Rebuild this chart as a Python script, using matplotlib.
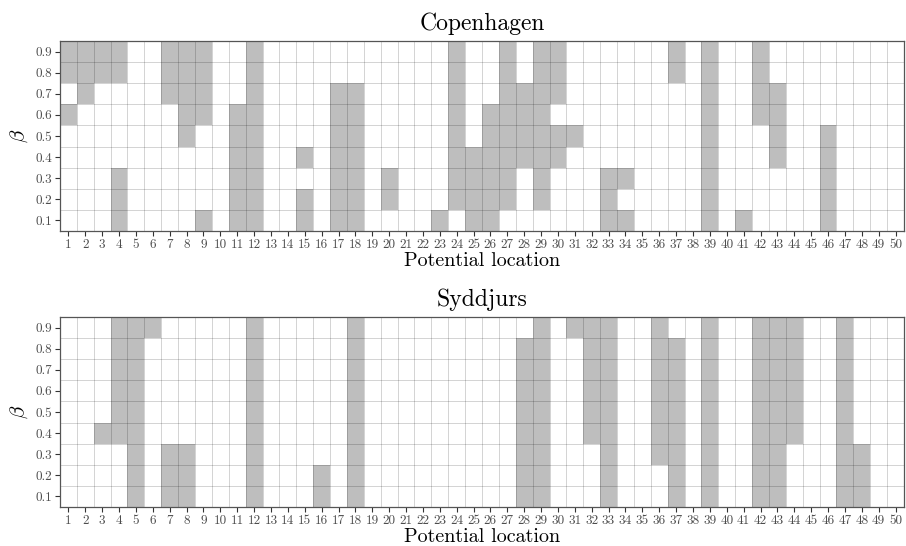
import numpy as np
import matplotlib
matplotlib.use("Agg")
import matplotlib.pyplot as plt
from matplotlib.colors import ListedColormap

plt.rcParams['font.family'] = ['cmr10', 'DejaVu Serif']
plt.rcParams['mathtext.fontset'] = 'cm'
plt.rcParams['axes.formatter.use_mathtext'] = True

locations = list(range(1, 51))
betas = [0.1, 0.2, 0.3, 0.4, 0.5, 0.6, 0.7, 0.8, 0.9]
ALL = [0.1, 0.2, 0.3, 0.4, 0.5, 0.6, 0.7, 0.8, 0.9]

copenhagen = {
    1: [0.9, 0.8, 0.6], 2: [0.9, 0.8, 0.7], 3: [0.9, 0.8],
    4: [0.9, 0.8, 0.3, 0.2, 0.1], 7: [0.9, 0.8, 0.7],
    8: [0.9, 0.8, 0.7, 0.6, 0.5], 9: [0.9, 0.8, 0.7, 0.6, 0.1],
    11: [0.6, 0.5, 0.4, 0.3, 0.2, 0.1], 12: ALL,
    15: [0.4, 0.2, 0.1], 17: [0.7, 0.6, 0.5, 0.4, 0.3, 0.2, 0.1],
    18: [0.7, 0.6, 0.5, 0.4, 0.3, 0.2, 0.1], 20: [0.3, 0.2], 23: [0.1],
    24: [0.9, 0.8, 0.7, 0.6, 0.5, 0.4, 0.3, 0.2], 25: [0.4, 0.3, 0.2, 0.1],
    26: [0.6, 0.5, 0.4, 0.3, 0.2, 0.1],
    27: [0.9, 0.8, 0.7, 0.6, 0.5, 0.4, 0.3, 0.2], 28: [0.7, 0.6, 0.5, 0.4],
    29: [0.9, 0.8, 0.7, 0.6, 0.5, 0.4, 0.3, 0.2],
    30: [0.9, 0.8, 0.7, 0.5, 0.4], 31: [0.5], 33: [0.3, 0.2, 0.1],
    34: [0.3, 0.1], 37: [0.9, 0.8], 39: ALL, 41: [0.1],
    42: [0.9, 0.8, 0.7, 0.6], 43: [0.7, 0.6, 0.5, 0.4],
    46: [0.5, 0.4, 0.3, 0.2, 0.1],
}

syddjurs = {
    3: [0.4], 4: [0.9, 0.8, 0.7, 0.6, 0.5, 0.4], 5: ALL, 6: [0.9],
    7: [0.3, 0.2, 0.1], 8: [0.3, 0.2, 0.1], 12: ALL, 16: [0.2, 0.1],
    18: ALL, 28: [0.8, 0.7, 0.6, 0.5, 0.4, 0.3, 0.2, 0.1], 29: ALL,
    31: [0.9], 32: [0.9, 0.8, 0.7, 0.6, 0.5, 0.4], 33: ALL,
    36: [0.9, 0.8, 0.7, 0.6, 0.5, 0.4, 0.3],
    37: [0.8, 0.7, 0.6, 0.5, 0.4, 0.3, 0.2, 0.1], 39: ALL,
    42: ALL, 43: ALL, 44: [0.9, 0.8, 0.7, 0.6, 0.5, 0.4],
    47: ALL, 48: [0.3, 0.2, 0.1],
}

panels = [("Copenhagen", copenhagen), ("Syddjurs", syddjurs)]

fig = plt.figure(figsize=(9.06, 5.46), dpi=100)
axes_pos = [[0.0662, 0.5769, 0.9316, 0.3480], [0.0662, 0.0714, 0.9316, 0.3480]]

xe = np.arange(0.5, 51.5, 1.0)
ye = np.arange(0.05, 1.0, 0.1)

for (title, data), pos in zip(panels, axes_pos):
    ax = fig.add_axes(pos)
    M = np.zeros((len(betas), len(locations)))
    for loc, bl in data.items():
        for b in bl:
            M[int(round(b * 10)) - 1, loc - 1] = 1
    Mm = np.ma.masked_where(M == 0, M)
    ax.pcolormesh(xe, ye, Mm, cmap=ListedColormap(['#bebebe']), vmin=0, vmax=1, zorder=1)
    ax.set_xlim(0.5, 50.5)
    ax.set_ylim(0.05, 0.95)
    ax.set_xticks(locations)
    ax.set_xticklabels([str(l) for l in locations], fontsize=9.5, color='#4d4d4d')
    ax.set_yticks(betas)
    ax.set_yticklabels([f"{b:.1f}" for b in betas], fontsize=9.5, color='#4d4d4d')
    ax.set_xticks(xe, minor=True)
    ax.set_yticks(ye, minor=True)
    ax.tick_params(which='minor', length=0)
    ax.tick_params(which='major', length=3.5, width=0.8, color='#333333', pad=2)
    ax.grid(False, which='major')
    ax.grid(True, which='minor', color='black', alpha=0.2, linewidth=0.6, zorder=2)
    ax.set_axisbelow(False)
    for s in ax.spines.values():
        s.set_color('#555555')
        s.set_linewidth(0.9)
        s.set_zorder(3)
    ax.set_title(title, fontsize=17, pad=8)
    ax.set_xlabel("Potential location", fontsize=14.5, labelpad=1)
    ax.set_ylabel(r"$\beta$", fontsize=15, labelpad=4)

fig.savefig("out.png", dpi=100)
